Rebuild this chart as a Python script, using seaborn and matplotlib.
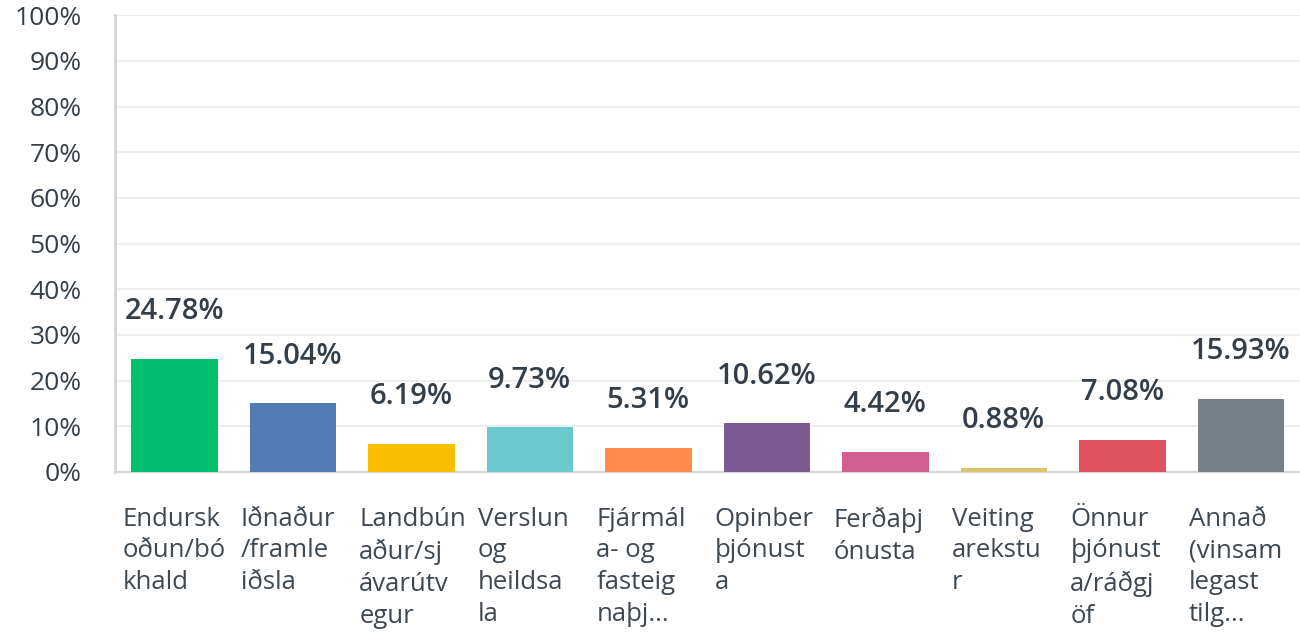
import matplotlib.pyplot as plt
import matplotlib.transforms as mtransforms
import seaborn as sns
import pandas as pd

categories = [
    "Endursk\noðun/bó\nkhald",
    "Iðnaður\n/framle\niðsla",
    "Landbún\naður/sj\návarútv\negur",
    "Verslun\nog\nheildsa\nla",
    "Fjármál\na- og\nfasteig\nnaþj...",
    "Opinber\nþjónust\na",
    "Ferðaþj\nónusta",
    "Veiting\narekstu\nr",
    "Önnur\nþjónust\na/ráðgj\nöf",
    "Annað\n(vinsam\nlegast\ntilg...",
]
values = [24.78, 15.04, 6.19, 9.73, 5.31, 10.62, 4.42, 0.88, 7.08, 15.93]
colors = ["#00BF6F", "#507CB6", "#F9BE00", "#6BC8CD", "#FF8B4F",
          "#7D5B92", "#D25F90", "#DAC46E", "#E05260", "#768086"]
y_ticks = list(range(0, 101, 10))

sns.set_theme(style="white")
plt.rcParams['font.family'] = ['Open Sans', 'DejaVu Sans']

text_color = "#333E48"
df = pd.DataFrame({"cat": categories, "val": values})

fig = plt.figure(figsize=(13, 6.36), dpi=100)
ax = fig.add_axes([0.0885, 0.258, 0.9115, 0.718])

sns.barplot(data=df, x="cat", y="val", hue="cat", palette=colors,
            saturation=1, legend=False, width=0.73, linewidth=0, ax=ax, zorder=3)

ax.set_ylim(0, 100)
ax.set_xlim(-0.5, len(categories) - 0.5)
ax.set_yticks(y_ticks)
ax.set_yticklabels([f"{t}%" for t in y_ticks], fontsize=19, color=text_color)
ax.yaxis.grid(True, color="#EDEEEE", linewidth=1.5, zorder=0)
ax.tick_params(axis="both", length=0)
ax.tick_params(axis="y", pad=24)
ax.tick_params(axis="x", pad=25)
ax.set_xlabel("")
ax.set_ylabel("")

for s in ["top", "right"]:
    ax.spines[s].set_visible(False)
ax.spines["left"].set_color("#D6D6D6")
ax.spines["left"].set_linewidth(2)
ax.spines["bottom"].set_color("#D6D6D6")
ax.spines["bottom"].set_linewidth(1.5)

# left-align the wrapped category labels near the start of each slot
shift = mtransforms.ScaledTranslation(-52 / 100, 0, fig.dpi_scale_trans)
for lbl in ax.get_xticklabels():
    lbl.set_horizontalalignment("left")
    lbl.set_verticalalignment("top")
    lbl.set_fontsize(18.5)
    lbl.set_color("#3D4852")
    lbl.set_linespacing(1.36)
    lbl.set_transform(lbl.get_transform() + shift)

for i, v in enumerate(values):
    ax.annotate(f"{v:.2f}%", (i, v), xytext=(0, 34), textcoords="offset points",
                ha="center", va="center", fontsize=21, fontweight="semibold",
                color=text_color)

fig.savefig("out.png", dpi=100)
